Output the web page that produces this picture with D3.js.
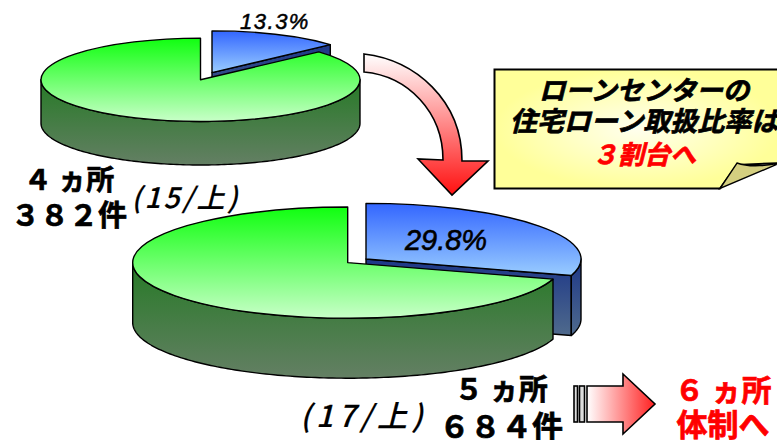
<!DOCTYPE html>
<html>
<head>
<meta charset="utf-8">
<script src="https://cdn.jsdelivr.net/npm/d3@7/dist/d3.min.js"></script>
<style>
html, body { margin: 0; padding: 0; background: #fff; overflow: hidden; }
text { font-family: "Noto Sans CJK JP", sans-serif; font-weight: 700; }
</style>
</head>
<body>
<div id="container"></div>
<script>
var categories = ["ローンセンター", "その他"];
var share15 = [13.3, 86.7];
var share17 = [29.8, 70.2];
var shareLabels = ["13.3%", "29.8%"];
var periodLabels = ["(15/上)", "(17/上)"];
var noteLines = ["ローンセンターの", "住宅ローン取扱比率は", "３割台へ"];

var width = 777, height = 440;
var svg = d3.select("#container").append("svg")
	.attr("width", width)
	.attr("height", height)
	.style("display", "block");
var defs = svg.append("defs");

function linear(id, c1, c2, horizontal) {
	var g = defs.append("linearGradient").attr("id", id)
		.attr("x1", 0).attr("y1", 0)
		.attr("x2", horizontal ? 1 : 0).attr("y2", horizontal ? 0 : 1);
	g.append("stop").attr("offset", "0%").attr("stop-color", c1);
	g.append("stop").attr("offset", "100%").attr("stop-color", c2);
}
linear("greenTop", "#10ff10", "#c8ffc8");
linear("greenWall", "#267a26", "#647f64");
linear("blueTop", "#3366ff", "#99ccff");
linear("blueWall", "#1d3788", "#4f6a8c");
linear("arrowDown", "#ffffff", "#ff1010");
linear("arrowRight", "#ffffff", "#ff2020", true);

var noteFill = defs.append("radialGradient").attr("id", "noteFill");
noteFill.append("stop").attr("offset", "0%").attr("stop-color", "#ffffee");
noteFill.append("stop").attr("offset", "100%").attr("stop-color", "#ffff99");

var pie = d3.pie().sort(null);

// 3D pie: wedge[0] is pulled out by (dx,dy), the rest stays at the centre
function drawPie(values, o) {
	var arcs = pie(values);
	var arc = d3.arc().innerRadius(0).outerRadius(o.rx);
	var ex = function(a) { return o.rx * Math.sin(a); };
	var ey = function(a) { return -o.ry * Math.cos(a); };
	var g = svg.append("g");

	function style(sel, fill) {
		return sel.attr("fill", "url(#" + fill + ")")
			.attr("stroke", "#000")
			.attr("stroke-width", 1.4)
			.attr("stroke-linejoin", "round");
	}

	function wall(d, x0, y0, fill) {
		var a0 = Math.max(d.startAngle, Math.PI / 2);
		var a1 = Math.min(d.endAngle, 3 * Math.PI / 2);
		if (a0 >= a1) return;
		var angles = d3.range(a0, a1, 0.02).concat([a1]);
		var top = angles.map(function(a) { return [x0 + ex(a), y0 + ey(a)]; });
		var bottom = angles.slice().reverse().map(function(a) { return [x0 + ex(a), y0 + ey(a) + o.depth]; });
		style(g.append("path"), fill).attr("d", d3.line()(top.concat(bottom)) + "Z");
	}

	function top(d, x0, y0, fill) {
		style(g.append("path"), fill)
			.attr("d", arc(d))
			.attr("vector-effect", "non-scaling-stroke")
			.attr("transform", "translate(" + x0 + "," + y0 + ") scale(1," + (o.ry / o.rx) + ")");
	}

	var bx = o.cx + o.dx, by = o.cy + o.dy;
	var a = arcs[0].endAngle;
	// cut face of the pulled-out wedge
	style(g.append("path"), "blueWall").attr("d", d3.line()([
		[bx, by], [bx + ex(a), by + ey(a)],
		[bx + ex(a), by + ey(a) + o.depth], [bx, by + o.depth]
	]) + "Z");
	wall(arcs[0], bx, by, "blueWall");
	top(arcs[0], bx, by, "blueTop");
	wall(arcs[1], o.cx, o.cy, "greenWall");
	top(arcs[1], o.cx, o.cy, "greenTop");
}

drawPie(share15, {cx: 200.5, cy: 79.8, rx: 159.5, ry: 41.7, depth: 43.5, dx: 11.5, dy: -7.2});
drawPie(share17, {cx: 347.7, cy: 262.6, rx: 215, ry: 55.6, depth: 60, dx: 18.3, dy: -3.6});

// curved arrow
svg.append("path")
	.attr("d", "M364,54 C415,60 462,100 462,161 L488,161 L452,195 L418,159 L443,160 C443,112 408,76 364,72 Z")
	.attr("fill", "url(#arrowDown)")
	.attr("stroke", "#000")
	.attr("stroke-width", 1.6)
	.attr("stroke-linejoin", "miter");

// note with folded corner
svg.append("path")
	.attr("d", "M494.5,69.5 L780,69.5 L780,163 L737,165 L720,188.5 L494.5,188.5 Z")
	.attr("fill", "url(#noteFill)")
	.attr("stroke", "#000")
	.attr("stroke-width", 2);
svg.append("path")
	.attr("d", "M720,188.5 L737,163 C748,167 765,166 780,163 Z")
	.attr("fill", "#d4cf80")
	.attr("stroke", "#000")
	.attr("stroke-width", 1.4);

// block arrow at the bottom right
svg.selectAll(".bar").data([[574, 3.5], [579.5, 5]]).enter().append("rect")
	.attr("class", "bar")
	.attr("x", function(d) { return d[0]; })
	.attr("y", 386)
	.attr("width", function(d) { return d[1]; })
	.attr("height", 36)
	.attr("fill", "#ddd")
	.attr("stroke", "#000")
	.attr("stroke-width", 1.6);
svg.append("path")
	.attr("d", "M587,386 L623,386 L623,374 L655,404 L623,434 L623,422 L587,422 Z")
	.attr("fill", "url(#arrowRight)")
	.attr("stroke", "#000")
	.attr("stroke-width", 1.6);

function label(text, x, y, size, color, italic, spacing, heavy) {
	var c = color || "#000";
	return svg.append("text")
		.attr("x", x).attr("y", y)
		.attr("text-anchor", "middle")
		.attr("fill", c)
		.attr("stroke", c)
		.attr("stroke-width", heavy === undefined ? 0.7 : heavy)
		.style("font-size", size + "px")
		.style("font-style", italic ? "italic" : "normal")
		.style("letter-spacing", (spacing || 0) + "px")
		.text(text);
}

label(shareLabels[0], 275, 29, 22, "#000", true, 1.5, 0.5).style("font-family", "'Liberation Sans', sans-serif").style("font-weight", 400);
label(shareLabels[1], 446, 250, 29, "#000", true, 0, 0.6).style("font-family", "'Liberation Sans', sans-serif").style("font-weight", 400);

label(periodLabels[0], 186, 208, 28, "#000", true, 3, 0.2).style("font-weight", 500);
label(periodLabels[1], 364, 427, 30, "#000", true, 5, 0.2).style("font-weight", 500);

label("４ ヵ所", 69, 190, 28);
label("３８２件", 69, 226, 29);
label("５ ヵ所", 501, 400, 29);
label("６８４件", 501, 438, 31);

label(noteLines[0], 644, 100, 26.5, "#000", true);
label(noteLines[1], 644, 131, 27, "#000", true);
label(noteLines[2], 644, 164, 26, "#ff0000", true);

label("６ ヵ所", 723, 401, 30, "#ff0000");
label("体制へ", 723, 436, 31, "#ff0000");
</script>
</body>
</html>
